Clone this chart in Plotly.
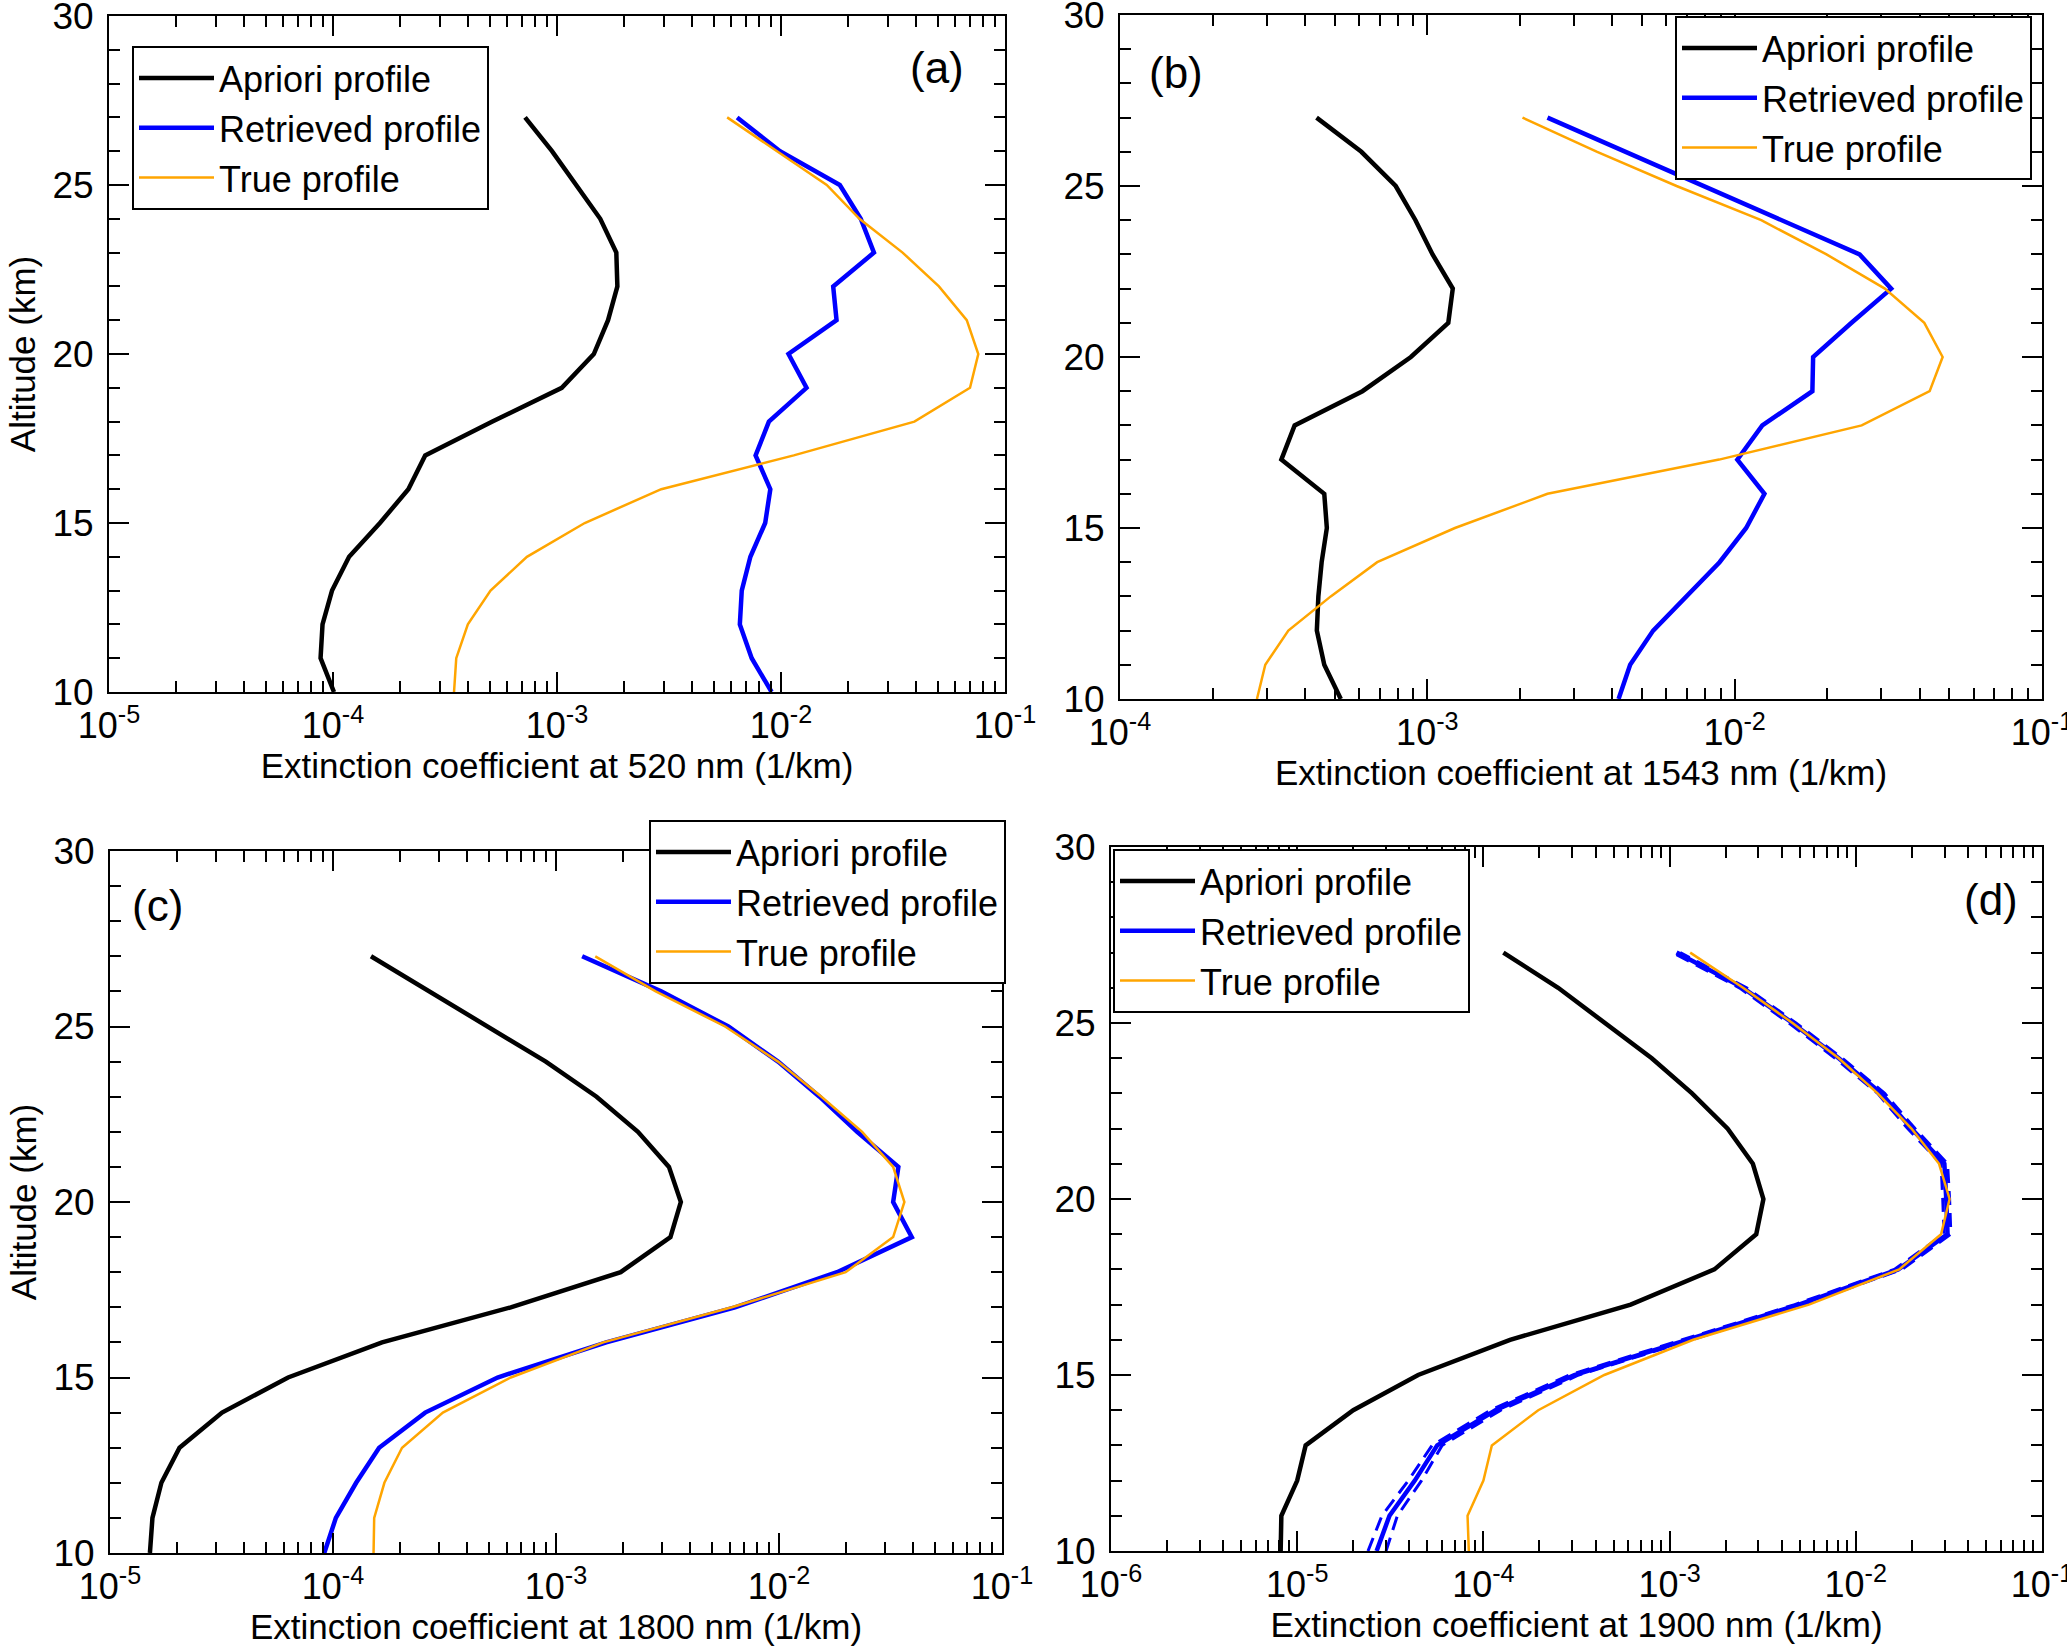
import plotly.graph_objects as go

W, H = 2067, 1647

altitude = [10, 11, 12, 13, 14, 15, 16, 17, 18, 19, 20, 21, 22, 23, 24, 25, 26, 27]

# Panel (a) 520 nm
a_apriori = [1.01e-4, 8.8e-5, 8.98e-5, 9.9e-5, 1.18e-4, 1.62e-4, 2.17e-4, 2.58e-4, 5.15e-4,
             1.05e-3, 1.46e-3, 1.69e-3, 1.86e-3, 1.84e-3, 1.56e-3, 1.22e-3, 9.5e-4, 7.2e-4]
a_retrieved = [9.08e-3, 7.4e-3, 6.55e-3, 6.68e-3, 7.3e-3, 8.5e-3, 8.96e-3, 7.7e-3, 8.83e-3,
               1.30e-2, 1.08e-2, 1.77e-2, 1.71e-2, 2.6e-2, 2.27e-2, 1.83e-2, 9.9e-3, 6.37e-3]
a_true = [3.47e-4, 3.55e-4, 4.0e-4, 5.05e-4, 7.34e-4, 1.33e-3, 2.92e-3, 1.14e-2, 3.94e-2,
          6.98e-2, 7.6e-2, 6.75e-2, 5.07e-2, 3.49e-2, 2.24e-2, 1.6e-2, 9.6e-3, 5.75e-3]

# Panel (b) 1543 nm
b_apriori = [5.23e-4, 4.62e-4, 4.37e-4, 4.42e-4, 4.53e-4, 4.71e-4, 4.62e-4, 3.35e-4, 3.7e-4,
             6.15e-4, 8.84e-4, 1.17e-3, 1.21e-3, 1.04e-3, 9.15e-4, 7.89e-4, 6.1e-4, 4.36e-4]
b_retrieved = [4.19e-3, 4.57e-3, 5.43e-3, 6.97e-3, 8.93e-3, 1.09e-2, 1.25e-2, 1.02e-2, 1.23e-2,
               1.79e-2, 1.8e-2, 2.4e-2, 3.23e-2, 2.55e-2, 1.42e-2, 7.9e-3, 4.42e-3, 2.46e-3]
b_true = [2.79e-4, 2.97e-4, 3.53e-4, 4.85e-4, 6.87e-4, 1.23e-3, 2.46e-3, 8.9e-3, 2.59e-2,
          4.31e-2, 4.75e-2, 4.14e-2, 3.08e-2, 1.99e-2, 1.22e-2, 6.47e-3, 3.57e-3, 2.04e-3]

# Panel (c) 1800 nm
c_apriori = [1.51e-5, 1.55e-5, 1.7e-5, 2.05e-5, 3.18e-5, 6.29e-5, 1.66e-4, 6.27e-4, 1.95e-3,
             3.26e-3, 3.63e-3, 3.21e-3, 2.33e-3, 1.52e-3, 9.0e-4, 4.94e-4, 2.68e-4, 1.48e-4]
c_retrieved = [9.14e-5, 1.03e-4, 1.27e-4, 1.61e-4, 2.59e-4, 5.47e-4, 1.68e-3, 6.35e-3, 1.82e-2,
               3.94e-2, 3.25e-2, 3.43e-2, 2.24e-2, 1.52e-2, 9.9e-3, 5.93e-3, 2.96e-3, 1.31e-3]
c_true = [1.52e-4, 1.53e-4, 1.7e-4, 2.04e-4, 3.11e-4, 6.27e-4, 1.63e-3, 6.14e-3, 1.99e-2,
          3.25e-2, 3.65e-2, 3.25e-2, 2.36e-2, 1.55e-2, 9.9e-3, 5.73e-3, 2.8e-3, 1.5e-3]

# Panel (d) 1900 nm
d_apriori = [8.15e-6, 8.22e-6, 1.0e-5, 1.11e-5, 2.0e-5, 4.46e-5, 1.39e-4, 6.18e-4, 1.74e-3,
             2.92e-3, 3.19e-3, 2.8e-3, 2.05e-3, 1.32e-3, 8.02e-4, 4.46e-4, 2.52e-4, 1.28e-4]
d_retrieved = [2.67e-5, 3.13e-5, 4.28e-5, 5.65e-5, 1.16e-4, 3.08e-4, 1.24e-3, 4.95e-3, 1.69e-2,
               3.11e-2, 3.06e-2, 2.99e-2, 1.99e-2, 1.37e-2, 8.1e-3, 4.57e-3, 2.48e-3, 1.09e-3]
d_retrieved_lo = [2.4e-5, 2.85e-5, 3.95e-5, 5.3e-5, 1.09e-4, 2.9e-4, 1.17e-3, 4.7e-3, 1.61e-2,
                  2.98e-2, 2.93e-2, 2.87e-2, 1.9e-2, 1.31e-2, 7.75e-3, 4.37e-3, 2.37e-3, 1.04e-3]
d_retrieved_hi = [3.0e-5, 3.45e-5, 4.65e-5, 6.0e-5, 1.24e-4, 3.25e-4, 1.31e-3, 5.2e-3, 1.77e-2,
                  3.24e-2, 3.19e-2, 3.11e-2, 2.08e-2, 1.43e-2, 8.45e-3, 4.77e-3, 2.59e-3, 1.14e-3]
d_true = [8.35e-5, 8.22e-5, 1.0e-4, 1.11e-4, 1.97e-4, 4.46e-4, 1.34e-3, 5.6e-3, 1.71e-2,
          2.87e-2, 3.19e-2, 2.8e-2, 1.99e-2, 1.31e-2, 8.1e-3, 4.57e-3, 2.48e-3, 1.29e-3]

wavelengths = ["520", "1543", "1800", "1900"]
panel_labels = ["(a)", "(b)", "(c)", "(d)"]
x_decades = [(-5, -1), (-4, -1), (-5, -1), (-6, -1)]
series_names = ["Apriori profile", "Retrieved profile", "True profile"]
y_ticks = [10, 15, 20, 25, 30]

FONT = "Liberation Sans, Arial, Helvetica, sans-serif"
BLACK = "#000000"
BLUE = "#0000FF"
ORANGE = "#FFA500"

# plot areas in pixels (left, right, top, bottom)
boxes = [(109, 1005, 16, 692), (1120, 2042, 15, 699),
         (110, 1002, 851, 1553), (1111, 2042, 847, 1551)]
legend_pos = [(132, 46), (1675, 16), (649, 820), (1113, 849)]
label_pos = [(937, 68), (1176, 72), (157, 905), (1991, 899)]


def px_x(p):
    return p / W


def px_y(p):
    return 1 - p / H


panels = [
    (a_apriori, a_retrieved, a_true),
    (b_apriori, b_retrieved, b_true),
    (c_apriori, c_retrieved, c_true),
    (d_apriori, d_retrieved, d_true),
]

fig = go.Figure()
layout = dict(
    width=W, height=H,
    margin=dict(l=0, r=0, t=0, b=0, autoexpand=False),
    paper_bgcolor="white", plot_bgcolor="white",
    font=dict(family=FONT, color="black", size=32),
    showlegend=True,
    annotations=[],
)

for i, (apr, ret, tru) in enumerate(panels):
    n = i + 1
    xa = "x" if n == 1 else f"x{n}"
    ya = "y" if n == 1 else f"y{n}"
    leg = "legend" if n == 1 else f"legend{n}"

    fig.add_trace(go.Scatter(x=apr, y=altitude, mode="lines", name=series_names[0],
                             line=dict(color=BLACK, width=4.5), xaxis=xa, yaxis=ya, legend=leg))
    if n == 4:
        for bound in (d_retrieved_lo, d_retrieved_hi):
            fig.add_trace(go.Scatter(x=bound, y=altitude, mode="lines", showlegend=False,
                                     line=dict(color=BLUE, width=3, dash="14px,8px"),
                                     xaxis=xa, yaxis=ya, legend=leg, hoverinfo="skip"))
    fig.add_trace(go.Scatter(x=ret, y=altitude, mode="lines", name=series_names[1],
                             line=dict(color=BLUE, width=4.5), xaxis=xa, yaxis=ya, legend=leg))
    fig.add_trace(go.Scatter(x=tru, y=altitude, mode="lines", name=series_names[2],
                             line=dict(color=ORANGE, width=2.5), xaxis=xa, yaxis=ya, legend=leg))

    l, r, t, b = boxes[i]
    d0, d1 = x_decades[i]
    major = [10.0 ** k for k in range(d0, d1 + 1)]
    minor = [m * 10.0 ** k for k in range(d0, d1) for m in range(2, 10)]
    xkey = "xaxis" if n == 1 else f"xaxis{n}"
    ykey = "yaxis" if n == 1 else f"yaxis{n}"
    layout[xkey] = dict(
        type="log", range=[d0, d1], domain=[px_x(l), px_x(r)], anchor=ya,
        automargin=False, ticklabeloverflow="allow",
        tickvals=major, ticktext=[f"10<sup>{k}</sup>" for k in range(d0, d1 + 1)],
        ticks="inside", ticklen=20, tickwidth=2, tickcolor=BLACK,
        showline=True, linecolor=BLACK, linewidth=2, mirror="allticks",
        showgrid=False, zeroline=False,
        tickfont=dict(size=36, family=FONT),
        ticklabelstandoff=1,
        minor=dict(tickvals=minor, ticks="inside", ticklen=11, tickwidth=1.5,
                   tickcolor=BLACK, showgrid=False),
        title=dict(text=f"Extinction coefficient at {wavelengths[i]} nm (1/km)",
                   font=dict(size=35, family=FONT), standoff=0),
    )
    layout[ykey] = dict(
        range=[10, 30], domain=[px_y(b), px_y(t)], anchor=xa,
        automargin=False, ticklabeloverflow="allow",
        tickvals=y_ticks, ticks="inside", ticklen=20, tickwidth=2, tickcolor=BLACK,
        showline=True, linecolor=BLACK, linewidth=2, mirror="allticks",
        showgrid=False, zeroline=False,
        tickfont=dict(size=37, family=FONT),
        ticklabelstandoff=6,
        minor=dict(dtick=1, ticks="inside", ticklen=11, tickwidth=1.5,
                   tickcolor=BLACK, showgrid=False),
        title=dict(text="Altitude (km)" if n in (1, 3) else "",
                   font=dict(size=35, family=FONT), standoff=6),
    )
    lx, ly = legend_pos[i]
    layout[leg] = dict(
        x=px_x(lx), y=px_y(ly), xanchor="left", yanchor="top",
        bgcolor="white", bordercolor=BLACK, borderwidth=2,
        font=dict(size=36, family=FONT), itemwidth=75,
        tracegroupgap=0, traceorder="normal",
    )
    ax, ay = label_pos[i]
    layout["annotations"].append(dict(
        text=panel_labels[i], x=px_x(ax), y=px_y(ay), xref="paper", yref="paper",
        xanchor="center", yanchor="middle", showarrow=False,
        font=dict(size=44, family=FONT, color=BLACK)))

fig.update_layout(**layout)
fig.write_html(
    "out.html",
    config={"displayModeBar": False},
    post_script="document.body.style.margin='0px';document.body.style.overflow='hidden';",
)
